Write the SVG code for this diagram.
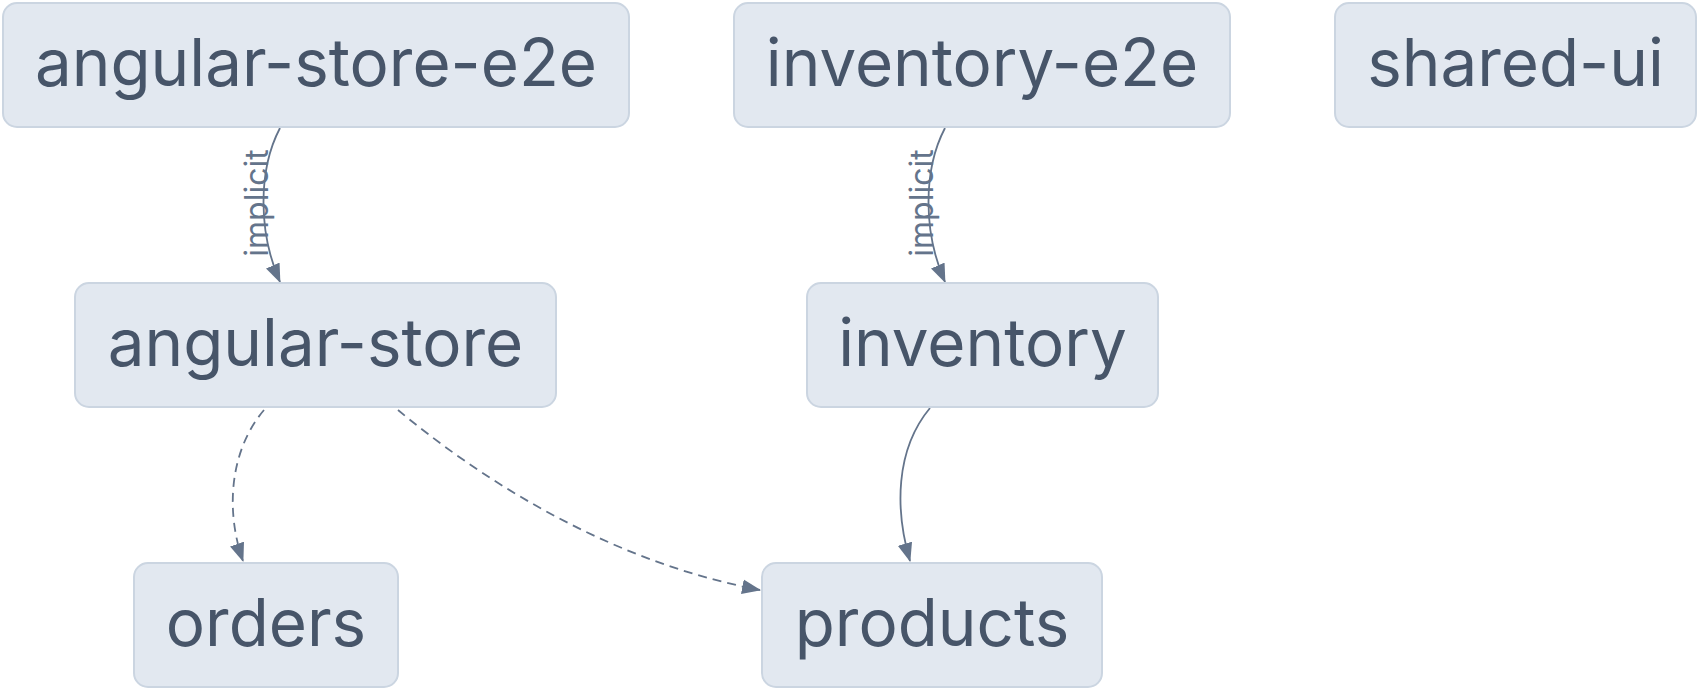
<svg xmlns="http://www.w3.org/2000/svg" width="1700" height="690" viewBox="0 0 1700 690">
  <defs>
    <style>
      .node rect { fill: #e2e8f0; stroke: #cbd5e1; stroke-width: 2; }
      .node text { font-family: Inter, "Noto Sans", "Liberation Sans", sans-serif; font-size: 65.5px; fill: #475569; text-anchor: middle; }
      .edge { fill: none; stroke: #64748b; stroke-width: 1.8; }
      .dashed { stroke-dasharray: 9 6; }
      .elabel { font-family: Inter, "Noto Sans", "Liberation Sans", sans-serif; font-size: 32px; fill: #64748b; text-anchor: middle; }
    </style>
    <marker id="arr" viewBox="0 0 18 14" refX="17" refY="7" markerWidth="19" markerHeight="15" markerUnits="userSpaceOnUse" orient="auto">
      <path d="M0,0 L18,7 L0,14 z" fill="#64748b"/>
    </marker>
  </defs>
  <rect width="1700" height="690" fill="#ffffff"/>

  <g id="connectors">
    <path class="edge" d="M280,128 C258,170 258,232 280,282" marker-end="url(#arr)"/>
    <text class="elabel" transform="translate(268,203) rotate(-90)">implicit</text>
    <path class="edge" d="M945,128 C923,170 923,232 945,282" marker-end="url(#arr)"/>
    <text class="elabel" transform="translate(933,203) rotate(-90)">implicit</text>
    <path class="edge dashed" d="M264,410 C230,450 225,510 243,561" marker-end="url(#arr)"/>
    <path class="edge dashed" d="M398,410 C470,470 600,560 760,590" marker-end="url(#arr)"/>
    <path class="edge" d="M930,408 C895,450 895,510 910,561" marker-end="url(#arr)"/>
  </g>

  <g id="angular-store-e2e" class="node">
    <rect x="3" y="3" width="626" height="124" rx="14"/>
    <text x="316" y="86">angular-store-e2e</text>
  </g>
  <g id="inventory-e2e" class="node">
    <rect x="734" y="3" width="496" height="124" rx="14"/>
    <text x="982" y="86">inventory-e2e</text>
  </g>
  <g id="shared-ui" class="node">
    <rect x="1335" y="3" width="361" height="124" rx="14"/>
    <text x="1515.5" y="86">shared-ui</text>
  </g>
  <g id="angular-store" class="node">
    <rect x="75" y="283" width="481" height="124" rx="14"/>
    <text x="315.5" y="366">angular-store</text>
  </g>
  <g id="inventory" class="node">
    <rect x="807" y="283" width="351" height="124" rx="14"/>
    <text x="982.5" y="366">inventory</text>
  </g>
  <g id="orders" class="node">
    <rect x="134" y="563" width="264" height="124" rx="14"/>
    <text x="266" y="646">orders</text>
  </g>
  <g id="products" class="node">
    <rect x="762" y="563" width="340" height="124" rx="14"/>
    <text x="932" y="646">products</text>
  </g>
</svg>
